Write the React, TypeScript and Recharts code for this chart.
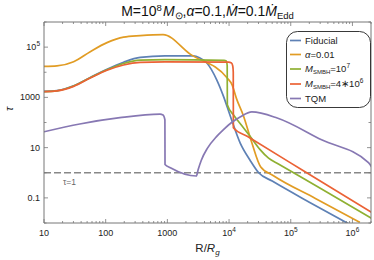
import React from 'react';
import { LineChart, Line, XAxis, YAxis, ReferenceLine, Legend } from 'recharts';

// radius R/Rg and optical depth tau
const fiducialR = [10, 16.2, 30.2, 56.2, 105, 195, 363, 912, 2630, 3310, 4370, 6310, 8130, 10500, 15100, 21900, 30200, 50100, 200000, 851000];
const fiducialTau = [1740, 1860, 2880, 6170, 13200, 25100, 38900, 44700, 44700, 38000, 23400, 5010, 1100, 178, 15.5, 3.16, 1.0, 0.468, 0.0676, 0.0095];

const alphaR = [10, 16.2, 30.2, 56.2, 105, 195, 363, 851, 2340, 9330, 11200, 13200, 17200, 23400, 32400, 52500, 251000, 1320000];
const alphaTau = [17000, 17800, 26300, 66100, 151000, 251000, 288000, 316000, 52500, 5890, 3160, 891, 178, 15.5, 1.74, 0.76, 0.0955, 0.0107];

const m7R = [10, 16.2, 30.2, 56.2, 105, 195, 363, 912, 8320, 9020, 9330, 9380, 12000, 15800, 21900, 31600, 43700, 63100, 316000, 2090000];
const m7Tau = [1700, 1820, 2820, 6030, 12600, 22400, 30200, 31600, 29500, 28200, 18200, 513, 191, 79.4, 28.2, 8.51, 3.8, 2.24, 0.224, 0.0148];

const m4R = [10, 16.2, 30.2, 56.2, 105, 195, 363, 912, 9770, 10960, 11480, 11700, 11750, 20000, 158000, 2090000];
const m4Tau = [1700, 1820, 2750, 5890, 12000, 19500, 24500, 25700, 25100, 23400, 17800, 10000, 61.7, 27.5, 1.23, 0.0257];

const tqmR = [10, 38, 170, 760, 850, 912, 916, 1120, 2950, 3160, 3550, 4470, 6310, 8130, 11000, 15100, 23400, 60300, 316000, 1820000, 2090000];
const tqmTau = [42.7, 87.1, 155, 214, 200, 129, 2.14, 1.58, 0.741, 1.35, 3.16, 9.55, 28.2, 52.5, 100, 166, 263, 151, 20.4, 2.51, 1.58];

const seriesNames = ['Fiducial', 'alpha', 'm7', 'm4', 'TQM'];

const xMajor = [10, 100, 1000, 1e4, 1e5, 1e6];
const xSteps = [2, 3, 4, 5, 6, 7, 8, 9];
const yTicks = [0.01, 0.1, 1, 10, 100, 1000, 1e4, 1e5, 1e6];
const yLabeled = [0.1, 10, 1000, 1e5];

const xTicks = [...xMajor, ...xMajor.flatMap((m) => xSteps.map((s) => m * s))]
  .filter((v) => v <= 2e6)
  .sort((a, b) => a - b);

const zip = (r: number[], t: number[]) => r.map((x, i) => ({ r: x, tau: t[i] }));

const COLORS: Record<string, string> = {
  Fiducial: '#5E81B5',
  alpha: '#E19C24',
  m7: '#8FB032',
  m4: '#EB6235',
  TQM: '#8778B3',
};

const FONT = '"Liberation Sans", Arial, sans-serif';
const FRAME = '#777';

const tickLabel = (v: number) => {
  if (v >= 1e4) {
    return (
      <>
        <tspan>10</tspan>
        <tspan dy={-4} fontSize={6.5}>{Math.round(Math.log10(v))}</tspan>
      </>
    );
  }
  return String(v);
};

const XTick = (props: any) => {
  const { x, y, payload, top } = props;
  const major = xMajor.includes(payload.value);
  const len = major ? 4 : 2;
  return (
    <g>
      <line x1={x} x2={x} y1={y} y2={top ? y + len : y - len} stroke={FRAME} strokeWidth={0.8} />
      {!top && major && (
        <text x={x} y={y + 13} textAnchor="middle" fontSize={9} fill="#222" fontFamily={FONT}>
          {tickLabel(payload.value)}
        </text>
      )}
    </g>
  );
};

const YTick = (props: any) => {
  const { x, y, payload, right } = props;
  const major = yLabeled.includes(payload.value);
  const len = major ? 4 : 2.5;
  return (
    <g>
      <line x1={x} x2={right ? x - len : x + len} y1={y} y2={y} stroke={FRAME} strokeWidth={0.8} />
      {!right && major && (
        <text x={x - 4} y={y + 3} textAnchor="end" fontSize={9} fill="#222" fontFamily={FONT}>
          {tickLabel(payload.value)}
        </text>
      )}
    </g>
  );
};

const legendLabel = (name: string) => {
  switch (name) {
    case 'alpha':
      return (
        <>
          <tspan fontStyle="italic">α</tspan>=0.01
        </>
      );
    case 'm7':
      return (
        <>
          <tspan fontStyle="italic">M</tspan>
          <tspan dy={2} fontSize={6}>SMBH</tspan>
          <tspan dy={-2}>=10</tspan>
          <tspan dy={-4} fontSize={6.5}>7</tspan>
        </>
      );
    case 'm4':
      return (
        <>
          <tspan fontStyle="italic">M</tspan>
          <tspan dy={2} fontSize={6}>SMBH</tspan>
          <tspan dy={-2}>=4∗10</tspan>
          <tspan dy={-4} fontSize={6.5}>6</tspan>
        </>
      );
    default:
      return name;
  }
};

const legendRows = [9.5, 23.5, 38, 53, 67.5];

const LegendBox = () => (
  <svg width={86} height={78}>
    <rect x={0.5} y={0.5} width={84} height={76} rx={11} fill="#fff" stroke="#222" strokeWidth={0.9} />
    {seriesNames.map((name, i) => (
      <g key={name}>
        <line x1={4} x2={15} y1={legendRows[i]} y2={legendRows[i]} stroke={COLORS[name]} strokeWidth={1.7} />
        <text x={19} y={legendRows[i] + 3.2} fontSize={9.5} fill="#222" fontFamily={FONT}>
          {legendLabel(name)}
        </text>
      </g>
    ))}
  </svg>
);

const seriesData: Record<string, { r: number; tau: number }[]> = {
  Fiducial: zip(fiducialR, fiducialTau),
  alpha: zip(alphaR, alphaTau),
  m7: zip(m7R, m7Tau),
  m4: zip(m4R, m4Tau),
  TQM: zip(tqmR, tqmTau),
};

export default function App() {
  return (
    <div style={{ position: 'absolute', left: 0, top: 0, width: 374, height: 260, background: '#fff' }}>
      <LineChart width={374} height={260} margin={{ top: 0, right: 0, bottom: 0, left: 0 }}>
        <XAxis
          dataKey="r"
          type="number"
          scale="log"
          domain={[10, 2e6]}
          allowDataOverflow
          ticks={xTicks}
          interval={0}
          height={37}
          tickSize={0}
          tickMargin={0}
          tickLine={false}
          axisLine={{ stroke: FRAME }}
          tick={(p: any) => <XTick {...p} />}
        />
        <XAxis
          xAxisId="top"
          orientation="top"
          dataKey="r"
          type="number"
          scale="log"
          domain={[10, 2e6]}
          allowDataOverflow
          ticks={xTicks}
          interval={0}
          height={22}
          tickSize={0}
          tickMargin={0}
          tickLine={false}
          axisLine={{ stroke: FRAME }}
          tick={(p: any) => <XTick {...p} top />}
        />
        <YAxis
          type="number"
          scale="log"
          domain={[0.01, 1e6]}
          allowDataOverflow
          ticks={yTicks}
          interval={0}
          width={44}
          tickSize={0}
          tickMargin={0}
          tickLine={false}
          axisLine={{ stroke: FRAME }}
          tick={(p: any) => <YTick {...p} />}
        />
        <YAxis
          yAxisId="right"
          orientation="right"
          type="number"
          scale="log"
          domain={[0.01, 1e6]}
          allowDataOverflow
          ticks={yTicks}
          interval={0}
          width={3}
          tickSize={0}
          tickMargin={0}
          tickLine={false}
          axisLine={{ stroke: FRAME }}
          tick={(p: any) => <YTick {...p} right />}
        />
        <ReferenceLine y={1} stroke="#888" strokeWidth={1.5} strokeDasharray="7 3" />
        {seriesNames.map((name) => (
          <Line
            key={name}
            data={seriesData[name]}
            dataKey="tau"
            name={name}
            type="monotone"
            stroke={COLORS[name]}
            strokeWidth={1.7}
            dot={false}
            isAnimationActive={false}
          />
        ))}
        <Legend
          layout="vertical"
          align="center"
          verticalAlign="middle"
          wrapperStyle={{ left: 286, top: 31, width: 86, height: 78 }}
          content={() => <LegendBox />}
        />
        <text x={207.5} y={16} textAnchor="middle" fontSize={14} fill="#111" fontFamily={FONT}>
          M=10
          <tspan dy={-5} fontSize={9.5}>8</tspan>
          <tspan dy={5} dx={1} fontStyle="italic">M</tspan>
          <tspan dy={3} fontSize={9.5}>⊙</tspan>
          <tspan dy={-3}>,</tspan>
          <tspan fontStyle="italic">α</tspan>
          <tspan>=0.1,</tspan>
          <tspan fontStyle="italic">Ṁ</tspan>
          <tspan>=0.1</tspan>
          <tspan fontStyle="italic">Ṁ</tspan>
          <tspan dy={3} fontSize={9.5}>Edd</tspan>
        </text>
        <text x={63} y={185} fontSize={8.5} fill="#666" fontFamily={FONT}>
          τ=1
        </text>
        <text x={207.5} y={252} textAnchor="middle" fontSize={11.5} fill="#222" fontFamily={FONT}>
          R/<tspan fontStyle="italic">R</tspan>
          <tspan dy={3} fontSize={8} fontStyle="italic">g</tspan>
        </text>
        <text x={13} y={109} textAnchor="middle" fontSize={11} fill="#222" fontFamily={FONT} transform="rotate(-90 13 109)">
          <tspan fontStyle="italic">τ</tspan>
        </text>
      </LineChart>
    </div>
  );
}
